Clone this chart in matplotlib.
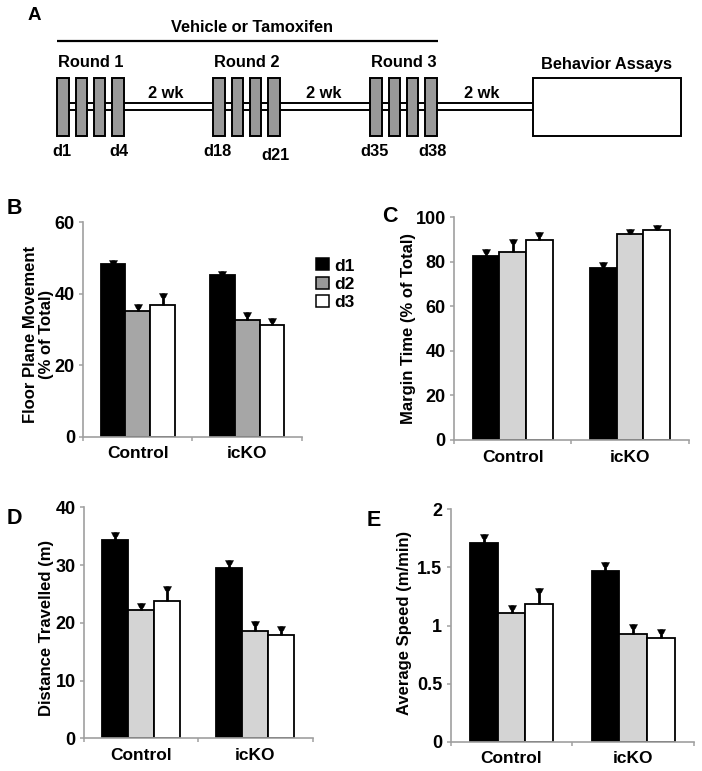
import matplotlib
matplotlib.use("Agg")
import matplotlib.pyplot as plt
from matplotlib.patches import Rectangle, Patch
from matplotlib.path import Path
from matplotlib.markers import MarkerStyle
import numpy as np

plt.rcParams['font.family'] = ['Liberation Sans', 'DejaVu Sans']
plt.rcParams['font.weight'] = 'bold'

# ---------------- data ----------------
groups = ['Control', 'icKO']
series = ['d1', 'd2', 'd3']

floor_means = [[48.3, 45.1], [35.2, 32.5], [36.9, 31.2]]
floor_errs = [[1.2, 1.3], [2.0, 2.3], [3.4, 2.0]]

margin_means = [[82.8, 77.1], [84.3, 92.4], [89.7, 94.2]]
margin_errs = [[2.8, 2.7], [5.8, 2.2], [3.9, 2.2]]

dist_means = [[34.3, 29.5], [22.2, 18.6], [23.8, 17.9]]
dist_errs = [[1.4, 1.4], [1.3, 1.7], [2.6, 1.5]]

speed_means = [[1.707, 1.472], [1.105, 0.927], [1.185, 0.895]]
speed_errs = [[0.078, 0.075], [0.069, 0.086], [0.135, 0.078]]

floor_ticks = [0, 20, 40, 60]
margin_ticks = [0, 20, 40, 60, 80, 100]
dist_ticks = [0, 10, 20, 30, 40]
speed_ticks = [0, 0.5, 1, 1.5, 2]
speed_ticklabels = ['0', '0.5', '1', '1.5', '2']

round_labels = ['Round 1', 'Round 2', 'Round 3']
round_days = [[1, 2, 3, 4], [18, 19, 20, 21], [35, 36, 37, 38]]
gap_labels = ['2 wk', '2 wk', '2 wk']
treatment_label = 'Vehicle or Tamoxifen'
assay_label = 'Behavior Assays'

# ---------------- figure ----------------
W, H = 702, 771
fig = plt.figure(figsize=(W / 100, H / 100), dpi=100, facecolor='white')


def px_axes(x0, y0, x1, y1):
    return fig.add_axes([x0 / W, 1 - y1 / H, (x1 - x0) / W, (y1 - y0) / H])


def ftext(x, y, s, **kw):
    kw.setdefault('ha', 'center')
    kw.setdefault('va', 'center')
    kw.setdefault('fontweight', 'bold')
    fig.text(x / W, 1 - y / H, s, **kw)


# ---------------- panel A (schematic) ----------------
axA = fig.add_axes([0, 1 - 180 / H, 1, 180 / H])
axA.set_xlim(0, W)
axA.set_ylim(180, 0)
axA.axis('off')

round_x0 = [63.0, 219.0, 376.0]
dose_step = 18.3
rect_w = 11.5
rect_top, rect_bot = 77.7, 135.7
line_y = [102.6, 110.2]
box_x0, box_x1 = 532.7, 681.0
box_y0, box_y1 = 78.3, 135.7
fsA = 11.8

for ly in line_y:
    axA.plot([round_x0[0], box_x0], [ly, ly], color='black', lw=1.4,
             solid_capstyle='butt', zorder=1)

for r, days in enumerate(round_days):
    xs = [round_x0[r] + k * dose_step for k in range(len(days))]
    axA.bar(xs, [rect_bot - rect_top] * len(xs), bottom=rect_top,
            width=rect_w, color='#999999', edgecolor='black', lw=1.4, zorder=2)
    axA.text(np.mean(xs), 62.8, round_labels[r], ha='center', va='center',
             fontsize=fsA, fontweight='bold')
    dy_last = 155.5 if r == 1 else 152.0
    axA.text(xs[0] - 1.5, 152.0, 'd%d' % days[0], ha='center', va='center',
             fontsize=fsA, fontweight='bold')
    axA.text(xs[-1] + 1.5, dy_last, 'd%d' % days[-1], ha='center',
             va='center', fontsize=fsA, fontweight='bold')

gap_x = [165.5, 323.5, 481.5]
for gx, gl in zip(gap_x, gap_labels):
    axA.text(gx, 93.8, gl, ha='center', va='center', fontsize=fsA,
             fontweight='bold')

axA.add_patch(Rectangle((box_x0, box_y0), box_x1 - box_x0, box_y1 - box_y0,
                        facecolor='white', edgecolor='black', lw=1.4, zorder=2))
axA.text((box_x0 + box_x1) / 2, 64.7, assay_label, ha='center', va='center',
         fontsize=fsA, fontweight='bold')

axA.plot([57.3, 437.5], [41.3, 41.3], color='black', lw=1.6,
         solid_capstyle='butt')
axA.text(252, 27.7, treatment_label, ha='center', va='center', fontsize=fsA,
         fontweight='bold')
axA.text(34, 16, 'A', ha='center', va='center', fontsize=13.5,
         fontweight='bold')

# ---------------- bar panels ----------------
series_colors_B = ['black', '#a6a6a6', 'white']
series_colors = ['black', '#d4d4d4', 'white']
bw = 0.228
cat_pos = np.array([0.5, 1.5])
spine_col = '#a0a0a0'

cap_path = Path([(-1.0, 0.0), (1.0, 0.0), (0.45, -1.1), (-0.45, -1.1),
                 (-1.0, 0.0)],
                [Path.MOVETO, Path.LINETO, Path.LINETO, Path.LINETO,
                 Path.CLOSEPOLY])
cap_marker = MarkerStyle(cap_path)


def bar_panel(ax, means, errs, ticks, ticklabels, colors):
    for i in range(len(series)):
        pos = cat_pos + (i - 1) * bw
        ax.bar(pos, means[i], width=bw, color=colors[i], edgecolor='black',
               linewidth=1.3, zorder=2, label=series[i])
        top = np.array(means[i]) + np.array(errs[i])
        ax.vlines(pos, means[i], top, color='black', lw=2.0, zorder=3)
        ax.plot(pos, top, linestyle='none', marker=cap_marker,
                markersize=6.4, color='black', markeredgewidth=0.3,
                zorder=4)
    ax.set_xlim(0, 2)
    ax.set_ylim(ticks[0], ticks[-1])
    ax.set_yticks(ticks)
    ax.set_yticklabels(ticklabels if ticklabels else [str(t) for t in ticks])
    ax.set_xticks(cat_pos)
    ax.set_xticklabels(groups)
    ax.set_xticks([0, 1, 2], minor=True)
    for s in ['top', 'right']:
        ax.spines[s].set_visible(False)
    for s in ['left', 'bottom']:
        ax.spines[s].set_color(spine_col)
        ax.spines[s].set_linewidth(1.2)
    ax.tick_params(axis='y', direction='out', length=3, width=1.1,
                   color=spine_col, labelsize=13, pad=3)
    ax.tick_params(axis='x', which='major', length=0, labelsize=12.5, pad=7)
    ax.tick_params(axis='x', which='minor', direction='out', length=3,
                   width=1.1, color=spine_col)
    for lab in ax.get_xticklabels() + ax.get_yticklabels():
        lab.set_fontweight('bold')
    ax.set_facecolor('none')


axB = px_axes(83.3, 222.3, 301.7, 436.5)
bar_panel(axB, floor_means, floor_errs, floor_ticks, None, series_colors_B)
axC = px_axes(454.0, 217.3, 688.5, 440.0)
bar_panel(axC, margin_means, margin_errs, margin_ticks, None, series_colors)
axD = px_axes(84.0, 507.3, 312.5, 738.3)
bar_panel(axD, dist_means, dist_errs, dist_ticks, None, series_colors)
axE = px_axes(450.7, 509.3, 694.0, 741.7)
bar_panel(axE, speed_means, speed_errs, speed_ticks, speed_ticklabels,
          series_colors)

# legend (panel B)
leg_handles = [Patch(facecolor=c, edgecolor='black', lw=1.1)
               for c in ['black', '#999999', 'white']]
fig.legend(leg_handles, series, loc='upper left',
           bbox_to_anchor=(313 / W, 1 - 255 / H), frameon=False,
           prop={'weight': 'bold', 'size': 12.5}, handlelength=0.75,
           handleheight=0.68, handletextpad=0.3, labelspacing=0.18,
           borderpad=0.2, borderaxespad=0)

# y labels
ftext(38.5, 334, 'Floor Plane Movement\n(% of Total)', rotation=90,
      fontsize=12, linespacing=1.05)
ftext(408.5, 328, 'Margin Time (% of Total)', rotation=90, fontsize=12)
ftext(46.7, 628, 'Distance Travelled (m)', rotation=90, fontsize=12)
ftext(405, 622.5, 'Average Speed (m/min)', rotation=90, fontsize=12)

# panel letters
ftext(14.5, 209, 'B', fontsize=15.5)
ftext(389.7, 216, 'C', fontsize=15.5)
ftext(14.5, 519, 'D', fontsize=15.5)
ftext(373.5, 520, 'E', fontsize=15.5)

fig.savefig('out.png', dpi=100, facecolor='white')
